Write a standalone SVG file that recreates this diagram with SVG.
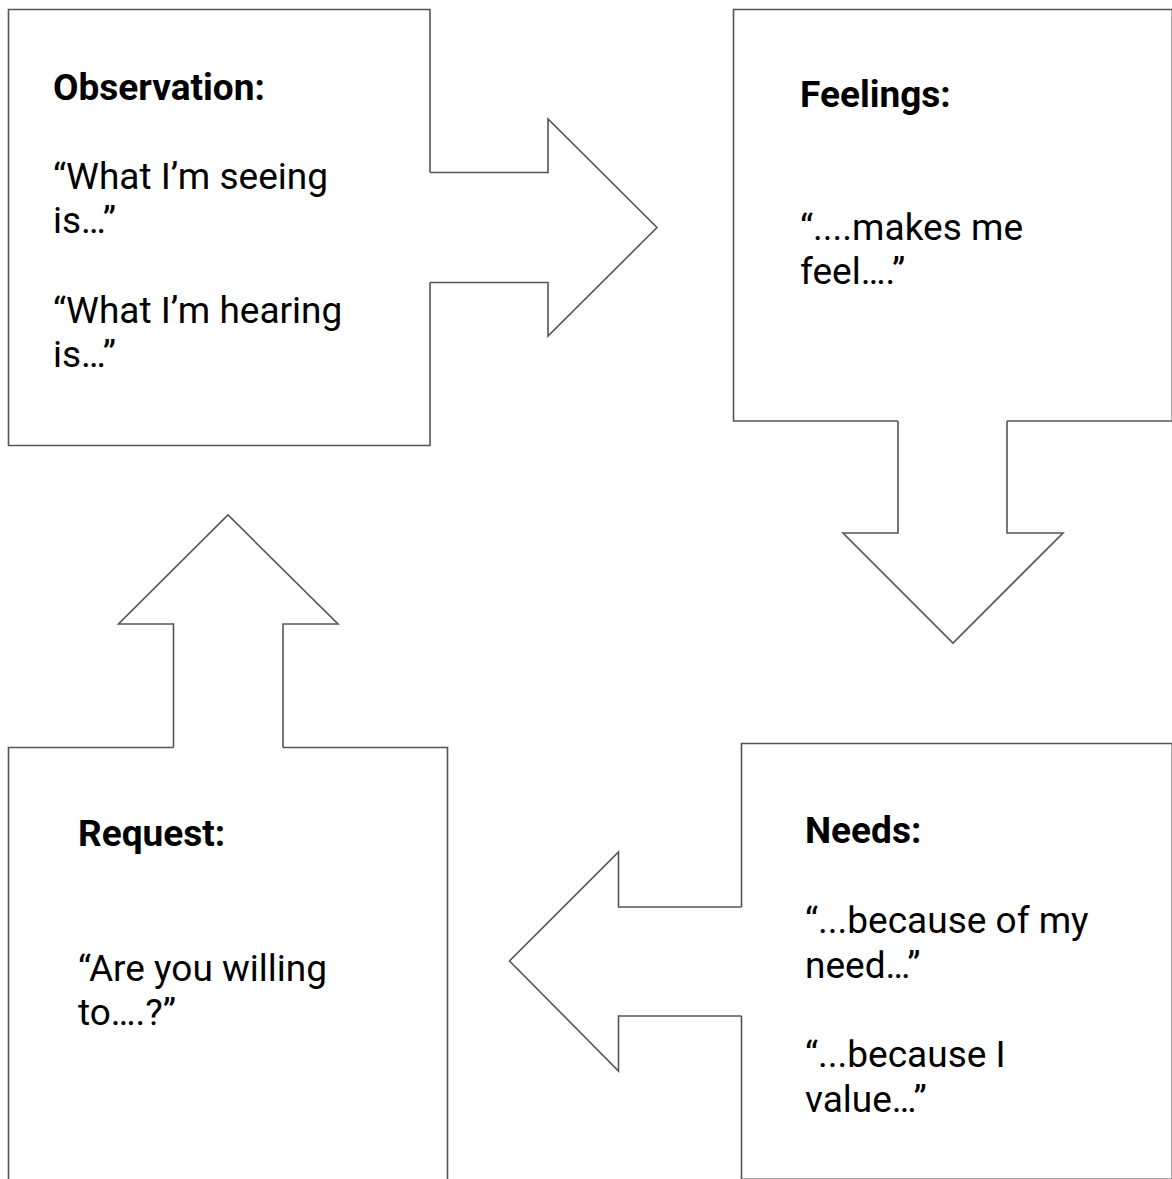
<svg xmlns="http://www.w3.org/2000/svg" width="1172" height="1179" viewBox="0 0 1172 1179">
<style>
.shape{fill:none;stroke:#555;stroke-width:1.6;stroke-linejoin:miter}
.t{font-family:Roboto,"Liberation Sans",sans-serif;font-size:37px;fill:#000}
.b{font-weight:bold}
</style>
<rect width="1172" height="1179" fill="#fff"/>
<g id="node-observation">
<path class="shape" d="M430,172.5 V9.5 H8.5 V445.5 H430 V282.5"/>
<text class="t b" x="53" y="100">Observation:</text>
<text class="t" x="53" y="189">“What I’m seeing</text>
<text class="t" x="53" y="233">is…”</text>
<text class="t" x="53" y="323">“What I’m hearing</text>
<text class="t" x="53" y="367">is…”</text>
</g>
<g id="node-feelings">
<path class="shape" d="M898,421 H733.5 V9.5 H1172.3 V421 H1007"/>
<text class="t b" x="800" y="107">Feelings:</text>
<text class="t" x="800" y="240">“....makes me</text>
<text class="t" x="800" y="284">feel….”</text>
</g>
<g id="node-needs">
<path class="shape" d="M741.5,907 V743.5 H1172.3 V1179.3 H741.5 V1016"/>
<text class="t b" x="805" y="843">Needs:</text>
<text class="t" x="805" y="933">“...because of my</text>
<text class="t" x="805" y="978">need…”</text>
<text class="t" x="805" y="1067">“...because I</text>
<text class="t" x="805" y="1112">value…”</text>
</g>
<g id="node-request">
<path class="shape" d="M173.5,747.5 H8.5 V1190 M447.5,1190 V747.5 H283"/>
<text class="t b" x="78" y="846">Request:</text>
<text class="t" x="78" y="981">“Are you willing</text>
<text class="t" x="78" y="1025">to….?”</text>
</g>
<g id="connectors">
<polyline class="shape" points="430,172.5 548,172.5 548,119 657,227.5 548,336 548,282.5 430,282.5"/>
<polyline class="shape" points="898,421 898,533 843,533 953,643 1063,533 1007,533 1007,421"/>
<polyline class="shape" points="741.5,907 618.5,907 618.5,852 509.5,961 618.5,1071 618.5,1016 741.5,1016"/>
<polyline class="shape" points="173.5,747.5 173.5,624 118.5,624 228,515 338,624 283,624 283,747.5"/>
</g>
</svg>
